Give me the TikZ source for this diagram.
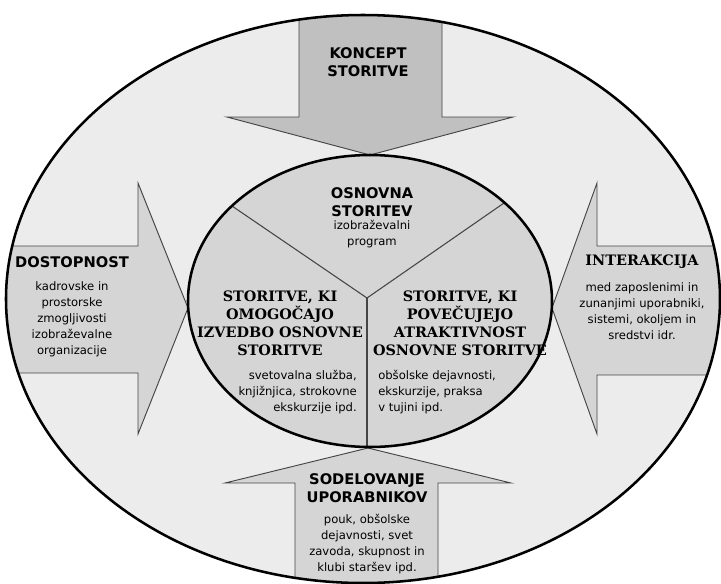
\documentclass[tikz,border=0pt]{standalone}
\usepackage{fontspec}
\setmainfont{DejaVu Sans}
\newfontfamily\titleserif{DejaVu Serif}
\usetikzlibrary{positioning}

\definecolor{ringgray}{HTML}{ECECEC}
\definecolor{coregray}{HTML}{D5D5D5}
\definecolor{topgray}{HTML}{C0C0C0}
\definecolor{edgegray}{HTML}{454545}

\begin{document}
\begin{tikzpicture}[
      x = 0.75pt, y = -0.75pt,
      on grid,
      arrowshape/.style = {fill = coregray, draw = edgegray, line width = 0.7pt, line join = miter},
      rim/.style = {draw = black, line width = 1.9pt},
      divider/.style = {draw = edgegray, line width = 0.8pt},
      heading/.style = {align = center, inner sep = 0pt, font = \fontsize{11}{13.5}\selectfont\bfseries},
      serifheading/.style = {align = center, inner sep = 0pt, font = \titleserif\fontsize{10.8}{13.5}\selectfont\bfseries},
      note/.style = {align = center, inner sep = 0pt, font = \fontsize{8.7}{12}\selectfont}]

  \useasboundingbox (0,0) rectangle (721,583);

  % outer ring
  \fill[ringgray] (363,299) ellipse [x radius = 357, y radius = 284];

  % the four arrows, cut off by the ring
  \begin{scope}
    \clip (363,299) ellipse [x radius = 357, y radius = 284];
    \filldraw[arrowshape, fill = topgray]
      (299,-5) -- (299,117) -- (227,117) -- (370,155) -- (513,117) -- (442,117) -- (442,-5) -- cycle;
    \filldraw[arrowshape]
      (-5,246) -- (138,246) -- (138,183) -- (188,308) -- (138,434) -- (138,373) -- (-5,373) -- cycle;
    \filldraw[arrowshape]
      (726,246) -- (597,246) -- (597,183) -- (552,308) -- (597,434) -- (597,375) -- (726,375) -- cycle;
    \filldraw[arrowshape]
      (295,590) -- (295,483) -- (225,483) -- (368,448) -- (511,483) -- (438,483) -- (438,590) -- cycle;
  \end{scope}
  \draw[rim] (363,299) ellipse [x radius = 357, y radius = 284];

  % core with its three parts
  \fill[coregray] (370,301) ellipse [x radius = 182, y radius = 146];
  \coordinate (mid) at (367,298);
  \coordinate (cut-left) at (232,206);
  \coordinate (cut-right) at (504,203);
  \coordinate (cut-bottom) at (367,447);
  \draw[divider] (mid) -- (cut-left);
  \draw[divider] (mid) -- (cut-right);
  \draw[divider] (mid) -- (cut-bottom);
  \draw[rim] (370,301) ellipse [x radius = 182, y radius = 146];

  % texts
  \node[heading] (koncept) at (368,62) {KONCEPT\\STORITVE};

  \node[heading] (osnovna) at (372,202) {OSNOVNA\\STORITEV};
  \node[note, below = 24pt of osnovna] (osnovna-note) {izobraževalni\\program};

  \node[serifheading] (omogocajo) at (280,323) {STORITVE, KI\\OMOGOČAJO\\IZVEDBO OSNOVNE\\STORITVE};
  \node[note, align = right, anchor = east] (omogocajo-note) at (357,392)
    {svetovalna služba,\\knjižnjica, strokovne\\ekskurzije ipd.};

  \node[serifheading] (povecujejo) at (460,323) {STORITVE, KI\\POVEČUJEJO\\ATRAKTIVNOST\\OSNOVNE STORITVE};
  \node[note, align = left, anchor = west] (povecujejo-note) at (378,392)
    {obšolske dejavnosti,\\ekskurzije, praksa\\v tujini ipd.};

  \node[heading] (dostopnost) at (72,262) {DOSTOPNOST};
  \node[note, below = 43pt of dostopnost] (dostopnost-note)
    {kadrovske in\\prostorske\\zmogljivosti\\izobraževalne\\organizacije};

  \node[serifheading] (interakcija) at (642,262) {INTERAKCIJA};
  \node[note, below = 37pt of interakcija] (interakcija-note)
    {med zaposlenimi in\\zunanjimi uporabniki,\\sistemi, okoljem in\\sredstvi idr.};

  \node[heading] (sodelovanje) at (367,488) {SODELOVANJE\\UPORABNIKOV};
  \node[note, below = 42pt of sodelovanje] (sodelovanje-note)
    {pouk, obšolske\\dejavnosti, svet\\zavoda, skupnost in\\klubi staršev ipd.};
\end{tikzpicture}
\end{document}
